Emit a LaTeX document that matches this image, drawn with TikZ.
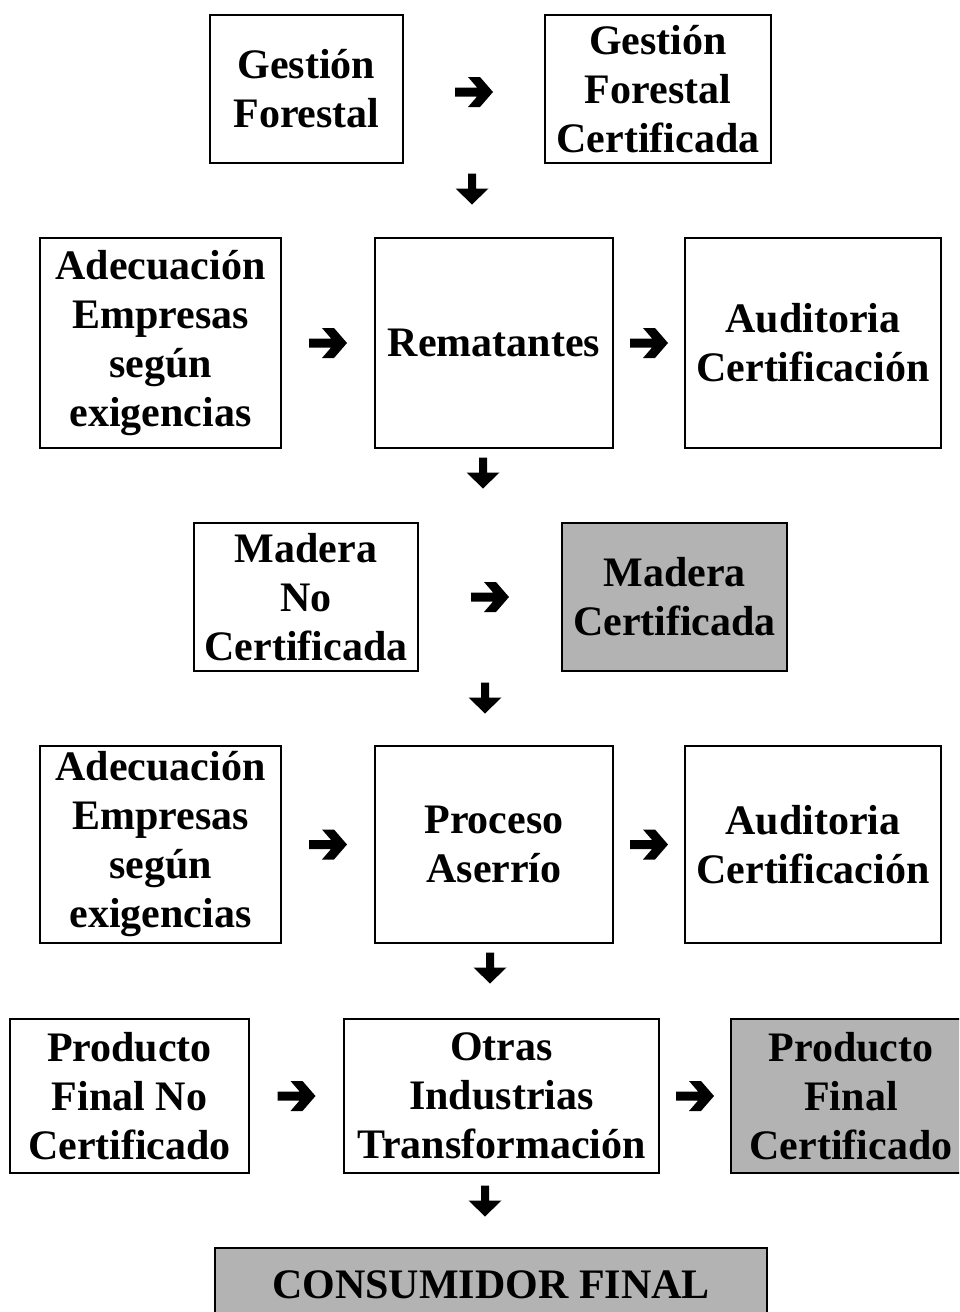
\documentclass[tikz,border=0pt]{standalone}
\usepackage{fontspec}
\setmainfont{Liberation Serif}
\usetikzlibrary{calc}
\definecolor{boxgray}{RGB}{179,179,179}
\tikzset{
  box/.style={draw=black, line width=2pt, fill=white, align=center, inner sep=0pt,
    font=\fontsize{42}{49}\selectfont\bfseries},
  graybox/.style={box, fill=boxgray},
  rarrow/.pic={\fill[black] (6,-15) -- (19,0) -- (6,15) -- (-6,15) -- (3.1,4.5) -- (-19,4.5)
     -- (-19,-4.5) -- (3.1,-4.5) -- (-6,-15) -- cycle;},
  darrow/.pic={\fill[black] (-4,-15.5) -- (4,-15.5) -- (4,-0.5) -- (16.5,-0.5) -- (0,15.5)
     -- (-16.5,-0.5) -- (-4,-0.5) -- cycle;}
}
\begin{document}
\begin{tikzpicture}[x=1pt,y=-1pt]
\useasboundingbox (0,0) rectangle (959,1312);
\clip (0,0) rectangle (959,1312);
\fill[white] (0,0) rectangle (959,1312);
% row 1
\node[box, minimum width=193pt, minimum height=148pt] (gf) at (306.5,89) {Gestión\\Forestal};
\node[box, minimum width=226pt, minimum height=148pt] (gfc) at (658,89) {Gestión\\Forestal\\Certificada};
% row 2
\node[box, minimum width=241pt, minimum height=210pt] (ad1) at (160.5,343) {Adecuación\\Empresas\\según\\exigencias};
\node[box, minimum width=238pt, minimum height=210pt] (rem) at (494,343) {Rematantes};
\node[box, minimum width=256pt, minimum height=210pt] (aud1) at (813,343) {Auditoria\\Certificación};
% row 3
\node[box, minimum width=224pt, minimum height=148pt] (mnc) at (306,597) {Madera\\No\\Certificada};
\node[graybox, minimum width=225pt, minimum height=148pt] (mc) at (674.5,597) {Madera\\Certificada};
% row 4
\node[box, minimum width=241pt, minimum height=197pt] (ad2) at (160.5,844.5) {Adecuación\\Empresas\\según\\exigencias};
\node[box, minimum width=238pt, minimum height=197pt] (pa) at (494,844.5) {Proceso\\Aserrío};
\node[box, minimum width=256pt, minimum height=197pt] (aud2) at (813,844.5) {Auditoria\\Certificación};
% row 5
\node[box, minimum width=239pt, minimum height=154pt] (pfnc) at (129.5,1096) {Producto\\Final No\\Certificado};
\node[box, minimum width=315pt, minimum height=154pt] (oit) at (501.5,1096) {Otras\\Industrias\\Transformación};
\node[graybox, minimum width=240pt, minimum height=154pt] (pfc) at (851,1096) {Producto\\Final\\Certificado};
% row 6
\node[graybox, minimum width=552pt, minimum height=74pt] (cf) at (491,1285) {CONSUMIDOR FINAL};
% right arrows
\pic at ($(gf.east)!0.5!(gfc.west)+(0,3)$) {rarrow};
\pic at ($(ad1.east)!0.5!(rem.west)$) {rarrow};
\pic at ($(rem.east)!0.5!(aud1.west)$) {rarrow};
\pic at ($(mnc.east)!0.5!(mc.west)$) {rarrow};
\pic at ($(ad2.east)!0.5!(pa.west)$) {rarrow};
\pic at ($(pa.east)!0.5!(aud2.west)$) {rarrow};
\pic at ($(pfnc.east)!0.5!(oit.west)$) {rarrow};
\pic at ($(oit.east)!0.5!(pfc.west)$) {rarrow};
% down arrows
\pic at (472,189) {darrow};
\pic at (483,473) {darrow};
\pic at (485,698) {darrow};
\pic at (490,968) {darrow};
\pic at (485,1201) {darrow};
\end{tikzpicture}
\end{document}
